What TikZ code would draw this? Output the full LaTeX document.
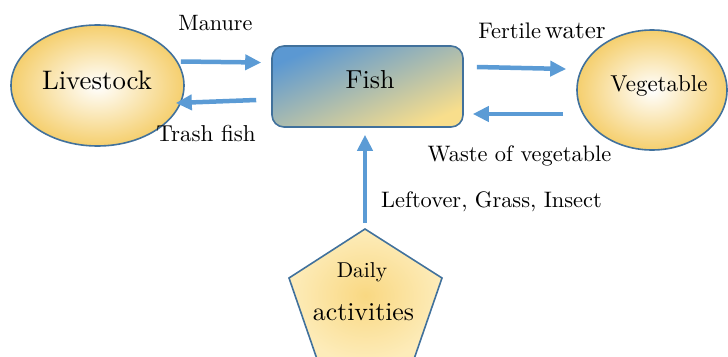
\documentclass[tikz,border=0pt]{standalone}
\usetikzlibrary{shapes.geometric,arrows.meta}
\definecolor{edgeblue}{RGB}{65,113,156}
\definecolor{flowblue}{RGB}{91,155,213}
\definecolor{sunrim}{RGB}{245,207,110}
\definecolor{fishtop}{RGB}{91,152,210}
\definecolor{fishlow}{RGB}{248,222,140}
\definecolor{pentcore}{RGB}{249,216,130}
\definecolor{pentrim}{RGB}{253,236,186}
% text set in the 10pt design and scaled up
\newcommand\grow[2]{\scalebox{#1}{#2}}
\begin{document}
\begin{tikzpicture}[x=1pt,y=-1pt,
  flow/.style={draw=flowblue, line width=4.5pt, -{Triangle[width=15pt,length=16pt]}},
  blob/.style={ellipse, draw=edgeblue, line width=1.6pt, shading=radial,
    inner color=white, outer color=sunrim, inner sep=0pt},
  lbl/.style={inner sep=0pt, text=black}]
\useasboundingbox (0,0) rectangle (728,356);
\begin{scope}
\clip (0,0) rectangle (728,356);

% farm units
\node[blob, minimum width=173pt, minimum height=121pt] (live) at (97.5,85.5) {};
\node[blob, minimum width=150pt, minimum height=120pt] (veg) at (652,90) {};
\node[draw=edgeblue, line width=1.6pt, rounded corners=12pt,
  minimum width=191pt, minimum height=81pt,
  top color=fishtop, bottom color=fishlow, shading angle=23] (fish) at (367.5,86.5) {};

% pentagon for daily activities
\coordinate (ptop) at (365,229);
\coordinate (pl) at (289,278);
\coordinate (pr) at (442,278);
\coordinate (pbl) at (318,362);
\coordinate (pbr) at (413,362);
\shadedraw[draw=edgeblue, line width=1.6pt, shading=radial,
  inner color=pentcore, outer color=pentrim]
  (ptop) -- (pr) -- (pbr) -- (pbl) -- (pl) -- cycle;

% node texts
\node[lbl] (tlive) at (97,80) {\grow{2.68}{Livestock}};
\node[lbl] (tfish) at (370,80) {\grow{2.6}{Fish}};
\node[lbl] (tveg) at (659,86) {\grow{2.3}{Vegetable}};
\node[lbl] (tdaily) at (362,272) {\grow{2.15}{Daily}};
\node[lbl] (tact) at (363.5,312) {\grow{2.58}{activities}};

% flows
\draw[flow] ([xshift=-4pt,yshift=24pt]live.east) -- ([xshift=-10pt,yshift=24pt]fish.west);
\draw[flow] ([xshift=-15pt,yshift=-13.5pt]fish.west) -- ([xshift=-9pt,yshift=-17.5pt]live.east);
\draw[flow] ([xshift=13pt,yshift=19.5pt]fish.east) -- ([xshift=-10pt,yshift=21pt]veg.west);
\draw[flow] ([xshift=-13pt,yshift=-24pt]veg.west) -- ([xshift=9pt,yshift=-27.5pt]fish.east);
\draw[flow] ([yshift=6pt]ptop) -- ([yshift=-7pt]fish.south -| ptop);

% flow labels
\node[lbl] (lman) at (215.5,23) {\grow{2.22}{Manure}};
\node[lbl] (ltrash) at (206,134) {\grow{2.3}{Trash fish}};
\node[lbl] (lfert) at (542,31) {\grow{2.25}{Fertile}\hspace{4pt}\grow{2.5}{water}};
\node[lbl] (lwaste) at (519.5,156) {\grow{2.24}{Waste of vegetable}};
\node[lbl] (lleft) at (491.5,202) {\grow{2.24}{Leftover, Grass, Insect}};
\end{scope}
\end{tikzpicture}
\end{document}
